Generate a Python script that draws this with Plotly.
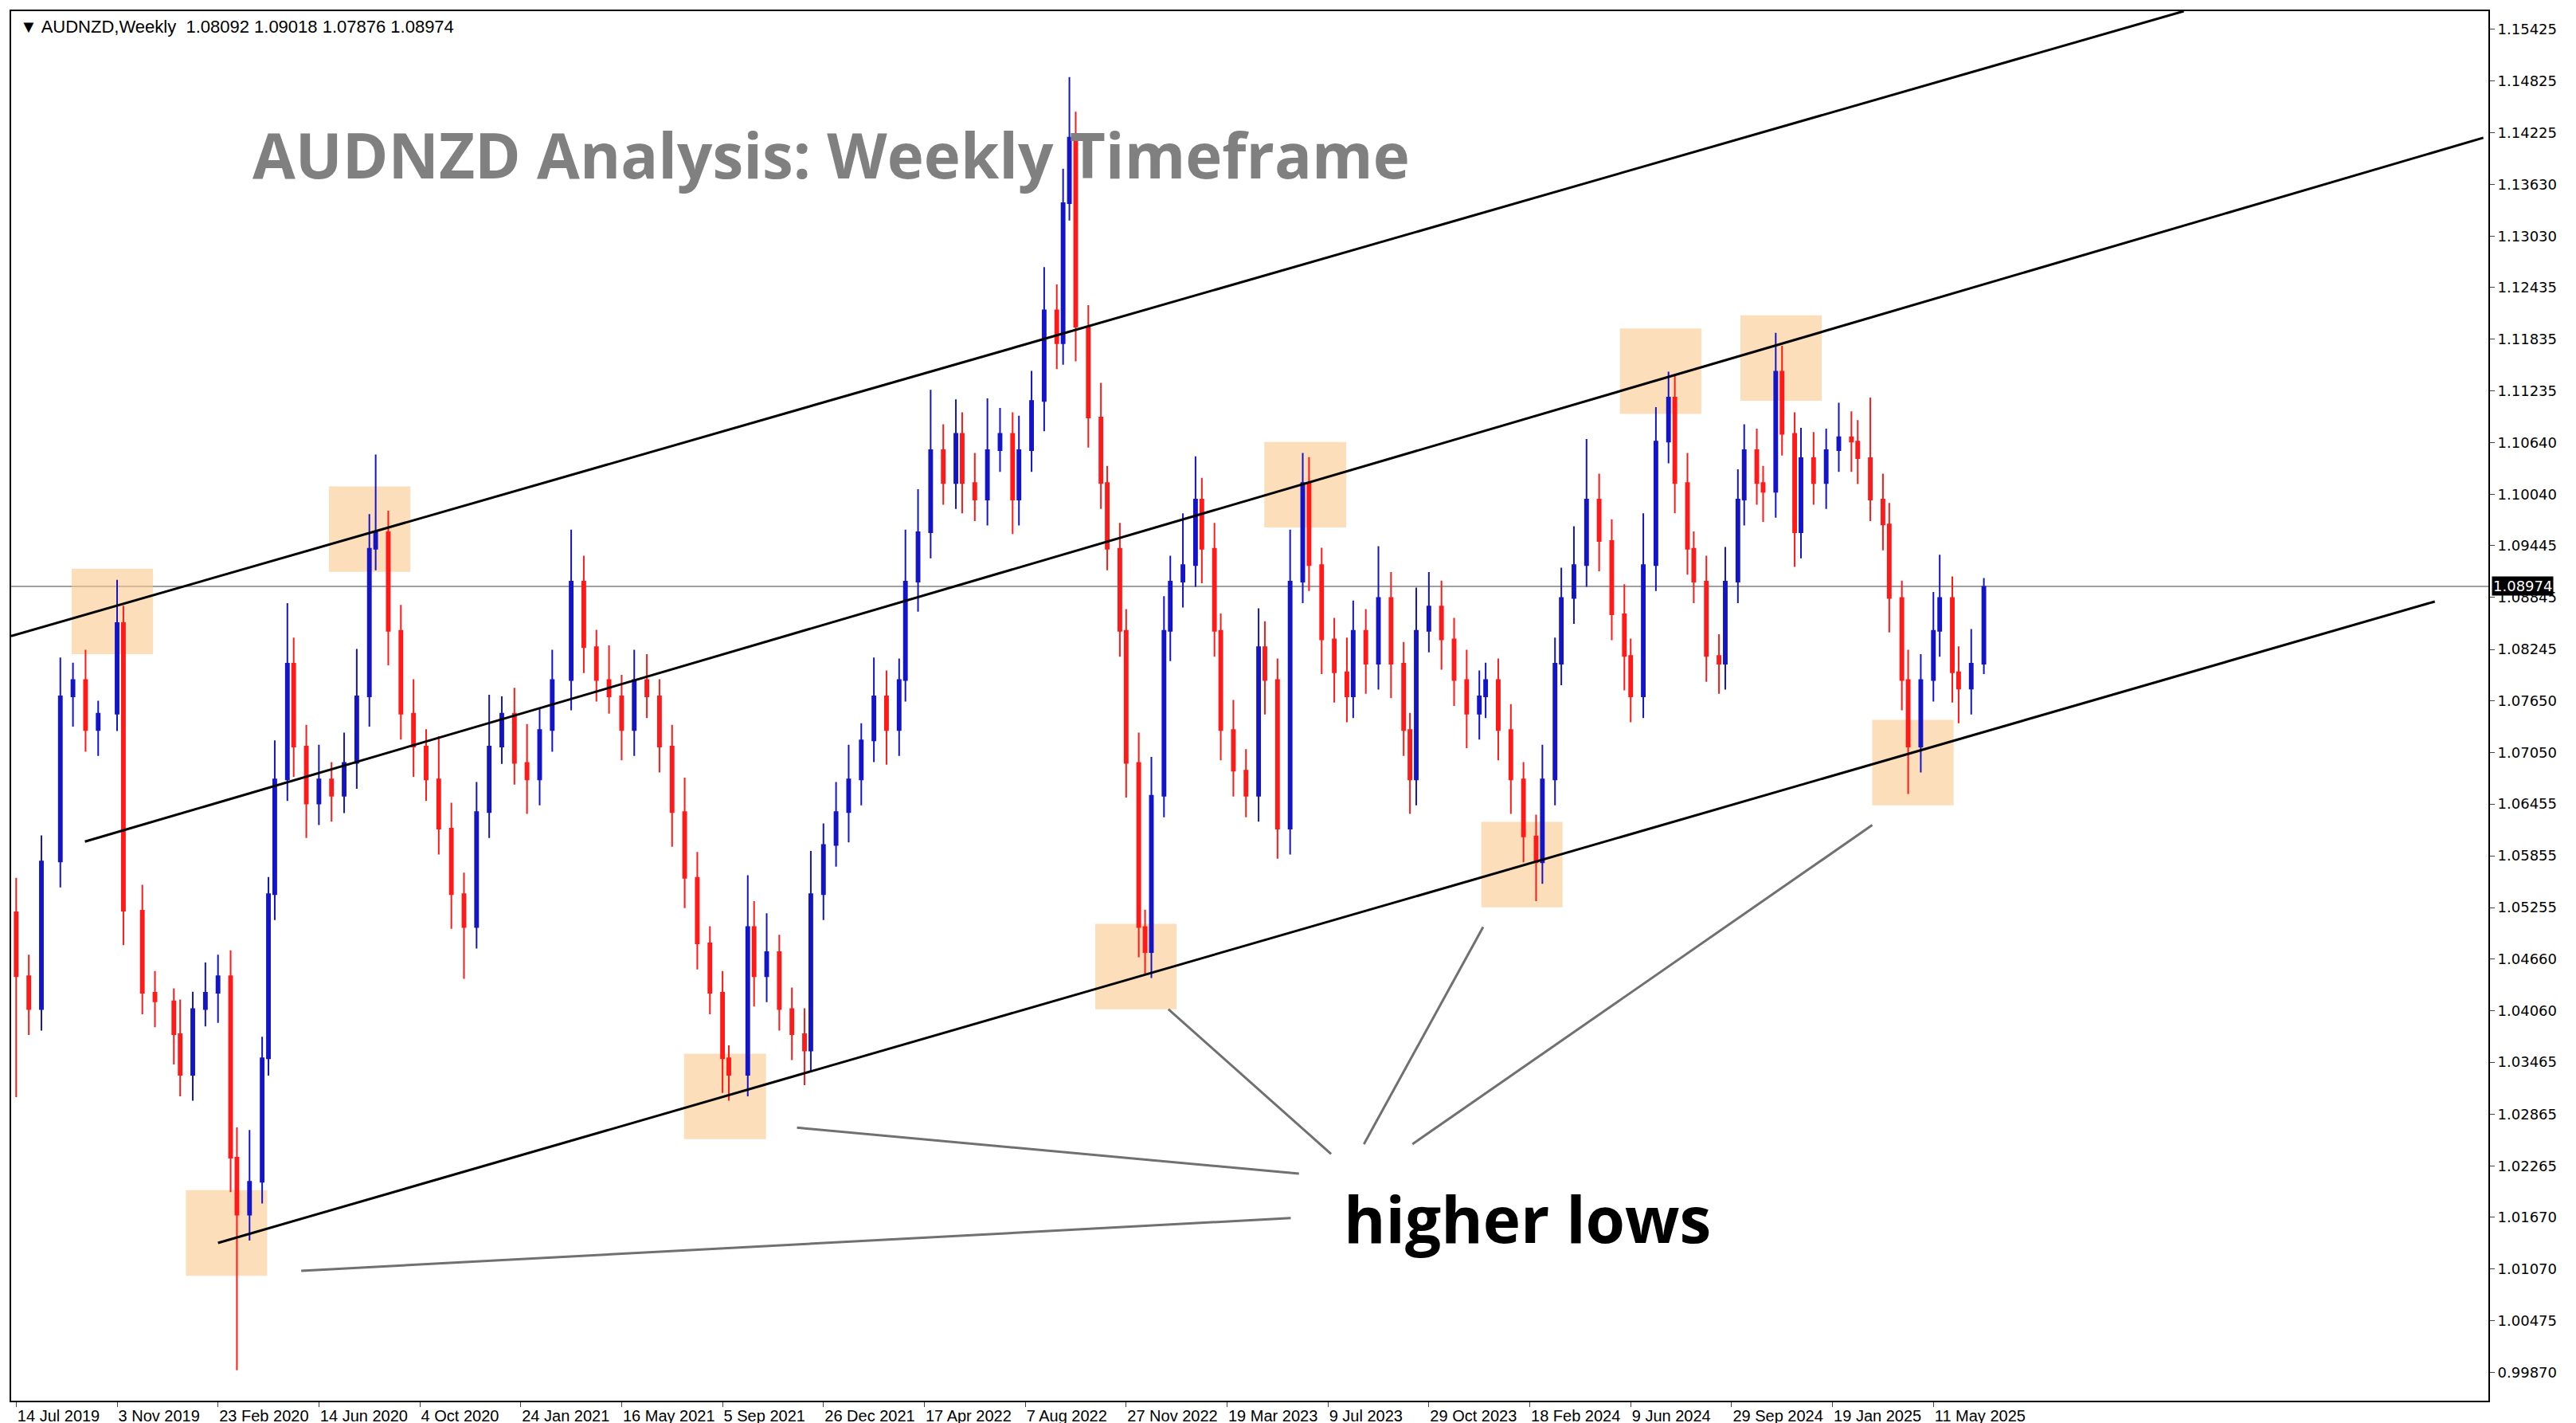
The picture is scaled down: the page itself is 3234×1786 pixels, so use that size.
import plotly.graph_objects as go

# week index (0 = 14 Jul 2019) and weekly close
weeks = [0, 2, 4, 7, 9, 11, 13, 16, 17, 20, 22, 25, 26, 28, 30, 32, 34, 35, 37, 39,
         40, 41, 43, 44, 46, 48, 50, 52, 54, 56, 57, 59, 61, 63, 65, 67, 69, 71, 73, 75,
         77, 79, 81, 83, 85, 88, 90, 92, 94, 96, 98, 100, 102, 104, 106, 108, 110, 112, 113, 116,
         117, 119, 121, 123, 125, 126, 128, 130, 132, 134, 136, 138, 140, 141, 143, 145, 147, 149, 150, 152,
         154, 156, 158, 159, 161, 163, 165, 166, 167, 168, 170, 172, 173, 175, 176, 178, 179, 180, 182, 183,
         185, 187, 188, 190, 191, 193, 195, 197, 198, 200, 202, 204, 205, 207, 209, 211, 212, 214, 216, 218,
         220, 221, 222, 224, 226, 228, 230, 232, 233, 235, 237, 239, 241, 242, 244, 245, 247, 249, 251, 253,
         255, 256, 258, 260, 262, 263, 265, 266, 268, 270, 271, 273, 274, 276, 277, 279, 280, 282, 283, 285,
         287, 289, 291, 292, 294, 296, 297, 299, 300, 302, 304, 305, 307, 308, 310, 312]
closes = [1.0446, 1.0408, 1.0579, 1.0770, 1.0789, 1.0731, 1.0750, 1.0855, 1.0522, 1.0427,
          1.0417, 1.0379, 1.0332, 1.0408, 1.0427, 1.0446, 1.0236, 1.0170, 1.0208, 1.0351,
          1.0541, 1.0674, 1.0808, 1.0712, 1.0646, 1.0674, 1.0655, 1.0693, 1.0770, 1.0941,
          1.0960, 1.0846, 1.0750, 1.0712, 1.0674, 1.0617, 1.0541, 1.0503, 1.0636, 1.0712,
          1.0750, 1.0693, 1.0674, 1.0731, 1.0789, 1.0903, 1.0827, 1.0789, 1.0770, 1.0731,
          1.0789, 1.0770, 1.0712, 1.0636, 1.0560, 1.0484, 1.0427, 1.0351, 1.0332, 1.0503,
          1.0446, 1.0474, 1.0408, 1.0379, 1.0360, 1.0541, 1.0598, 1.0636, 1.0674, 1.0719,
          1.0770, 1.0731, 1.0789, 1.0903, 1.0960, 1.1055, 1.1017, 1.1074, 1.1017, 1.0998,
          1.1055, 1.1074, 1.0998, 1.1055, 1.1112, 1.1217, 1.1179, 1.1341, 1.1417, 1.1198,
          1.1093, 1.1017, 1.0941, 1.0846, 1.0693, 1.0503, 1.0474, 1.0655, 1.0846, 1.0903,
          1.0922, 1.0998, 1.0941, 1.0846, 1.0731, 1.0684, 1.0655, 1.0827, 1.0789, 1.0617,
          1.0903, 1.1017, 1.0922, 1.0836, 1.0798, 1.0770, 1.0846, 1.0808, 1.0884, 1.0808,
          1.0731, 1.0674, 1.0846, 1.0874, 1.0836, 1.0789, 1.0750, 1.0770, 1.0789, 1.0731,
          1.0674, 1.0608, 1.0578, 1.0674, 1.0808, 1.0884, 1.0922, 1.0998, 1.0950, 1.0865,
          1.0817, 1.0770, 1.0922, 1.1065, 1.1116, 1.1017, 1.0941, 1.0903, 1.0817, 1.0808,
          1.0903, 1.0998, 1.1055, 1.1017, 1.1007, 1.1146, 1.1074, 1.0960, 1.1046, 1.1017,
          1.1055, 1.1070, 1.1065, 1.1046, 1.0998, 1.0969, 1.0884, 1.0789, 1.0712, 1.0789,
          1.0846, 1.0884, 1.0798, 1.0779, 1.0808, 1.0897]
first_open = 1.0520
# wick lengths in pips above / below the candle body
upper_pips = [40, 25, 30, 45, 20, 35, 15, 50, 20, 30, 25, 15, 40, 20, 35, 25, 30, 35, 60, 25,
              20, 45, 70, 30, 25, 40, 20, 35, 55, 40, 90, 25, 30, 40, 20, 50, 30, 25, 35, 60,
              20, 30, 45, 25, 35, 60, 30, 20, 40, 25, 35, 30, 20, 25, 40, 30, 20, 25, 15, 60,
              30, 45, 20, 25, 30, 50, 25, 35, 40, 20, 45, 30, 25, 60, 50, 70, 30, 40, 25, 35,
              60, 30, 25, 40, 35, 50, 30, 40, 70, 30, 25, 40, 20, 30, 25, 35, 20, 45, 40, 30,
              60, 50, 25, 30, 20, 35, 25, 45, 30, 25, 60, 35, 30, 20, 25, 40, 35, 25, 60, 30,
              25, 20, 50, 40, 30, 25, 35, 30, 20, 25, 30, 20, 25, 40, 30, 35, 45, 70, 30, 25,
              35, 20, 60, 40, 30, 25, 35, 20, 30, 25, 40, 35, 30, 25, 20, 45, 30, 25, 35, 30,
              25, 40, 30, 25, 70, 30, 25, 20, 35, 30, 45, 50, 25, 30, 40, 10]
lower_pips = [140, 30, 25, 30, 35, 25, 30, 20, 40, 25, 30, 35, 25, 30, 20, 35, 40, 180, 30, 25,
              20, 30, 25, 35, 40, 25, 30, 20, 30, 35, 25, 40, 30, 35, 25, 30, 40, 60, 25, 30,
              20, 25, 40, 30, 25, 35, 30, 25, 20, 35, 30, 25, 30, 40, 35, 30, 25, 40, 30, 25,
              35, 30, 25, 30, 40, 25, 30, 25, 35, 30, 25, 40, 30, 25, 35, 30, 25, 30, 35, 25,
              30, 25, 40, 30, 25, 35, 30, 25, 20, 40, 35, 30, 25, 30, 40, 35, 25, 30, 25, 35,
              30, 25, 40, 30, 35, 30, 25, 30, 40, 35, 30, 25, 30, 40, 35, 30, 25, 35, 30, 40,
              30, 40, 30, 25, 35, 30, 40, 30, 25, 35, 40, 30, 45, 25, 30, 25, 30, 25, 35, 30,
              40, 30, 25, 30, 25, 35, 30, 25, 30, 35, 30, 25, 30, 25, 35, 30, 25, 40, 30, 25,
              30, 25, 35, 30, 25, 30, 40, 35, 55, 30, 25, 30, 35, 40, 30, 12]

tick_weeks = [0, 16, 32, 48, 64, 80, 96, 112, 128, 144, 160, 176, 192, 208, 224, 240, 256, 272, 288, 304]
tick_labels = ["14 Jul 2019", "3 Nov 2019", "23 Feb 2020", "14 Jun 2020", "4 Oct 2020", "24 Jan 2021",
               "16 May 2021", "5 Sep 2021", "26 Dec 2021", "17 Apr 2022", "7 Aug 2022", "27 Nov 2022",
               "19 Mar 2023", "9 Jul 2023", "29 Oct 2023", "18 Feb 2024", "9 Jun 2024", "29 Sep 2024",
               "19 Jan 2025", "11 May 2025"]
price_ticks = [1.15425, 1.14825, 1.14225, 1.13630, 1.13030, 1.12435, 1.11835, 1.11235, 1.10640,
               1.10040, 1.09445, 1.08845, 1.08245, 1.07650, 1.07050, 1.06455, 1.05855, 1.05255,
               1.04660, 1.04060, 1.03465, 1.02865, 1.02265, 1.01670, 1.01070, 1.00475, 0.99870]
last_price = 1.08974

# channel lines (week, price) pairs
channels = [((-0.8, 1.08399), (343.7, 1.15634)),
            ((10.9, 1.06019), (391.2, 1.14168)),
            ((32.0, 1.01373), (383.5, 1.08799))]
pointers = [((45.2, 1.01050), (202.1, 1.01660)),
            ((123.8, 1.02707), (203.4, 1.02174)),
            ((182.7, 1.04078), (208.5, 1.02403)),
            ((232.6, 1.05030), (213.7, 1.02517)),
            ((294.3, 1.06210), (221.4, 1.02517))]
boxes = [(8.8, 21.7, 1.08190, 1.09180), (49.6, 62.5, 1.09142, 1.10132),
         (26.9, 39.8, 1.00993, 1.01983), (105.9, 118.9, 1.02574, 1.03563),
         (171.1, 184.0, 1.04078, 1.05068), (197.9, 210.9, 1.09656, 1.10646),
         (232.3, 245.2, 1.05258, 1.06248), (254.3, 267.2, 1.10970, 1.11960),
         (273.4, 286.3, 1.11122, 1.12112), (294.3, 307.2, 1.06439, 1.07429)]

opens = [first_open] + closes[:-1]
highs = [max(o, c) + u * 1e-4 for o, c, u in zip(opens, closes, upper_pips)]
lows = [min(o, c) - d * 1e-4 for o, c, d in zip(opens, closes, lower_pips)]

fig = go.Figure()
fig.add_trace(go.Candlestick(
    x=weeks, open=opens, high=highs, low=lows, close=closes,
    increasing=dict(line=dict(color='#1414c8', width=2), fillcolor='#1414c8'),
    decreasing=dict(line=dict(color='#ff1a1a', width=2), fillcolor='#ff1a1a'),
    whiskerwidth=0, hoverinfo='none', showlegend=False
))

shapes = []
for (x0, y0), (x1, y1) in channels:
  shapes.append(dict(type='line', x0=x0, y0=y0, x1=x1, y1=y1, xref='x', yref='y',
                     line=dict(color='black', width=3)))
for (x0, y0), (x1, y1) in pointers:
  shapes.append(dict(type='line', x0=x0, y0=y0, x1=x1, y1=y1, xref='x', yref='y',
                     line=dict(color='#707070', width=3)))
for x0, x1, y0, y1 in boxes:
  shapes.append(dict(type='rect', x0=x0, x1=x1, y0=y0, y1=y1, xref='x', yref='y',
                     fillcolor='rgba(250,200,140,0.6)', line=dict(width=0), layer='below'))
shapes.append(dict(type='line', x0=0, x1=1, xref='paper', y0=last_price, y1=last_price, yref='y',
                   line=dict(color='#a0a0a0', width=2), layer='below'))

annotations = [
  dict(text="AUDNZD Analysis: Weekly Timeframe", x=129.2, y=1.13978, xref='x', yref='y',
       showarrow=False, font=dict(family='Open Sans', size=78, color='#808080', weight='bold')),
  dict(text="higher lows", x=210.3, y=1.0166, xref='x', yref='y', xanchor='left',
       showarrow=False, font=dict(family='Open Sans', size=80, color='black', weight='bold')),
  dict(text="▼ AUDNZD,Weekly  1.08092 1.09018 1.07876 1.08974", x=0.003, y=0.997,
       xref='paper', yref='paper', xanchor='left', yanchor='top', showarrow=False,
       font=dict(family='Liberation Sans', size=22, color='black')),
  dict(text="1.08974", x=1.0, y=last_price, xref='paper', yref='y', xanchor='left', xshift=4,
       showarrow=False, bgcolor='black', borderpad=1,
       font=dict(family='DejaVu Sans', size=18, color='white')),
]

fig.update_layout(
  width=3234, height=1786,
  margin=dict(l=4, r=118, t=6, b=36),
  plot_bgcolor='white', paper_bgcolor='white',
  shapes=shapes, annotations=annotations,
  xaxis=dict(range=[-0.8, 392], tickvals=tick_weeks, ticktext=tick_labels, tickangle=0,
             ticklabelposition='outside right', ticks='outside', ticklen=6,
             showgrid=False, zeroline=False, rangeslider=dict(visible=False),
             showline=True, linecolor='black', linewidth=2, mirror=True,
             tickfont=dict(family='Liberation Sans', size=20, color='black')),
  yaxis=dict(range=[0.99546, 1.15634], side='right', tickvals=price_ticks,
             ticktext=['%.5f' % v for v in price_ticks], ticks='outside', ticklen=6,
             showgrid=False, zeroline=False,
             showline=True, linecolor='black', linewidth=2, mirror=True,
             tickfont=dict(family='DejaVu Sans', size=18, color='black')),
)
fig.write_html("out.html")
